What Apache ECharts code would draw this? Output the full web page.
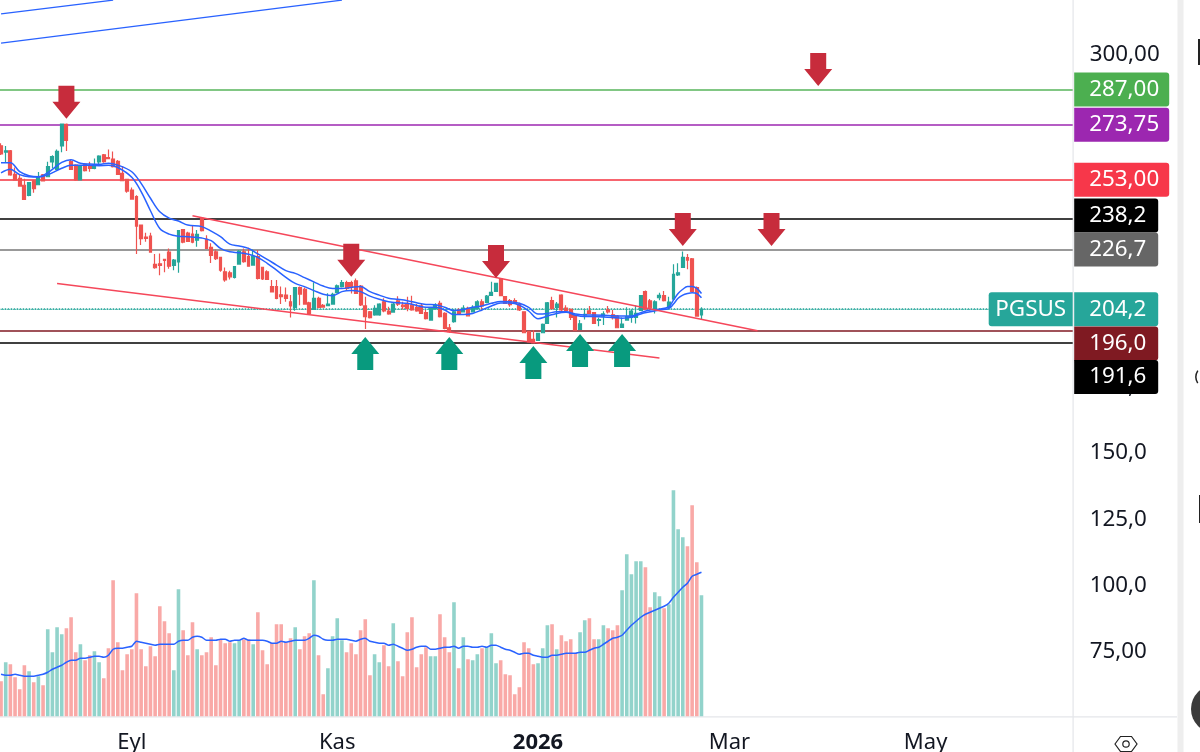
<!DOCTYPE html>
<html>
<head>
<meta charset="utf-8">
<style>html,body{margin:0;padding:0;background:#fff}#main{width:1200px;height:752px}</style>
<script src="https://cdn.jsdelivr.net/npm/echarts@6/dist/echarts.min.js"></script>
</head>
<body>
<div id="main"></div>
<script>
// candles, one entry per session
var opens = [265.8,263.4,263.9,255.0,253.5,250.9,247.1,252.6,251.1,254.8,254.1,259.7,256.9,265.7,273.9,259.8,258.5,252.9,258.8,258.3,257.3,259.7,262.4,261.3,260.8,259.9,255.4,253.1,249.1,246.6,235.9,231.4,231.7,221.1,221.3,223.0,225.7,220.7,222.0,234.2,232.9,232.5,230.2,238.4,230.5,227.5,225.8,223.7,218.3,217.9,216.2,221.2,225.8,224.0,220.8,224.0,220.0,218.3,212.7,212.7,209.6,209.5,207.0,204.9,212.3,211.7,206.6,204.1,208.3,205.6,205.5,206.1,210.4,212.7,214.2,214.2,214.9,212.9,205.4,203.2,202.0,202.0,207.0,203.5,203.1,207.3,205.7,206.1,205.7,204.9,205.4,202.9,200.1,204.4,206.4,202.6,197.2,199.5,203.9,203.2,204.5,203.2,204.5,207.0,206.7,209.4,210.9,215.6,208.9,207.4,207.4,206.1,203.2,195.7,192.8,192.4,195.3,198.8,207.4,204.9,209.5,204.6,204.1,201.9,196.6,202.0,203.6,202.9,200.0,201.6,203.9,202.1,201.6,197.3,200.1,201.1,201.1,203.7,210.8,207.3,204.5,208.5,209.3,204.9,208.0,217.1,219.9,223.6,223.2,212.3,202.0];
var closes = [262.7,263.9,254.8,252.9,250.6,245.6,251.9,249.6,253.9,252.5,257.9,261.7,263.7,274.0,267.8,256.9,252.9,257.9,256.4,257.3,258.5,261.9,259.8,260.9,257.9,255.0,252.6,248.7,245.7,235.5,230.8,230.9,225.7,219.8,220.7,222.6,220.4,222.7,233.8,229.5,229.7,229.5,232.4,233.8,227.1,224.5,223.2,218.9,215.2,216.4,220.2,226.0,222.1,220.4,224.0,215.8,215.6,215.4,210.7,208.3,208.9,208.3,205.4,212.3,209.9,206.1,202.6,208.3,204.9,205.0,206.1,209.8,213.0,214.2,212.0,212.7,210.1,205.8,201.4,201.0,204.5,206.1,203.5,202.4,206.1,206.1,205.1,204.5,203.9,203.5,202.6,200.6,204.4,205.6,201.4,196.9,195.7,203.2,202.4,204.6,201.7,204.9,207.0,205.4,209.1,210.5,213.9,209.3,206.4,205.9,206.4,203.9,195.3,191.9,191.5,195.1,198.5,206.6,204.4,206.1,203.9,203.7,201.1,196.3,198.7,202.2,202.6,198.8,200.3,202.4,203.2,201.0,197.2,198.6,201.4,203.5,202.6,209.3,204.2,204.7,207.0,209.4,207.4,206.9,217.3,217.9,223.7,222.7,210.9,201.6,204.2];
var lows = [262.3,259.4,254.5,252.9,250.4,245.6,246.8,248.1,251.0,252.4,254.1,257.3,256.6,263.3,263.8,256.9,252.6,252.7,256.1,256.0,256.9,258.9,259.4,260.7,257.6,254.8,252.5,248.1,245.6,225.0,228.4,229.6,225.5,219.4,217.0,218.1,219.4,218.9,217.9,229.0,229.6,229.0,227.7,233.5,226.9,221.6,222.7,218.3,214.5,215.4,215.8,221.0,221.7,220.2,220.7,215.4,215.2,215.2,210.7,207.9,206.1,207.0,201.1,203.6,205.7,205.9,202.4,203.9,204.5,204.9,205.4,205.9,210.1,212.4,211.4,210.1,209.9,205.4,196.7,200.7,201.7,201.7,203.0,202.1,202.9,205.4,204.1,203.4,203.6,203.2,202.4,200.3,199.8,204.1,201.1,196.6,195.3,199.1,202.1,202.9,201.6,202.9,204.1,204.1,206.4,209.3,210.7,209.1,206.1,205.1,206.1,203.5,195.1,191.8,191.3,192.3,195.1,198.6,204.1,201.1,203.5,203.2,200.1,196.1,196.3,200.3,202.4,198.6,197.8,198.2,202.6,200.3,197.0,197.1,199.8,199.1,198.8,203.5,204.0,204.5,202.6,207.6,207.1,204.6,207.9,216.7,219.8,219.2,210.7,201.4,200.3];
var highs = [266.7,265.7,264.2,257.6,255.0,253.4,252.1,252.9,255.9,255.1,259.8,262.2,264.4,274.2,274.2,260.7,258.8,258.5,259.2,259.8,261.0,262.2,262.7,264.4,263.6,260.4,258.1,253.4,250.1,247.1,235.9,233.0,233.0,225.0,225.2,223.2,227.1,223.1,234.0,234.4,233.4,235.9,234.0,238.8,232.1,229.0,226.7,224.0,219.9,218.7,220.4,226.5,227.1,227.3,226.7,226.5,220.2,218.9,215.2,215.2,212.7,212.4,209.5,212.4,212.7,212.4,207.0,214.3,208.9,206.1,210.2,210.4,213.5,215.2,214.9,214.9,215.8,213.3,208.9,203.5,205.7,206.4,208.3,205.1,206.6,209.1,207.0,208.9,209.3,206.1,206.1,203.9,204.6,206.4,207.4,203.0,198.6,204.1,204.5,205.7,205.1,205.7,207.6,207.9,209.5,214.5,214.2,215.8,209.1,208.0,208.3,206.6,203.2,195.9,196.3,195.3,198.8,206.9,208.9,206.9,209.8,205.7,204.4,202.0,200.1,204.1,205.4,203.1,201.1,203.4,205.4,203.9,202.0,201.1,204.9,204.1,205.6,209.5,211.2,208.0,207.6,210.4,211.0,208.9,221.1,221.5,225.9,225.0,223.5,212.7,204.9];

// moving averages on the price, sampled as [session, price]
var maFast = [[0,259.4],[2,259.4],[4,256.0],[6,254.5],[8,254.1],[10,255.6],[13,259.5],[15,260.5],[17,259.2],[19,258.9],[21,258.8],[23,259.2],[25,258.5],[28,256.0],[30,251.6],[32,246.0],[34,240.9],[36,238.5],[38,237.4],[40,235.9],[43,235.3],[45,233.6],[47,231.5],[49,228.7],[51,228.0],[53,227.1],[55,225.0],[57,223.0],[59,220.8],[61,218.7],[63,217.7],[65,216.1],[67,214.5],[69,212.9],[71,212.0],[73,212.0],[75,212.4],[77,212.7],[79,210.8],[81,209.5],[83,208.3],[85,207.9],[87,207.4],[89,206.6],[91,206.0],[93,205.9],[95,204.9],[97,203.7],[99,204.1],[101,204.9],[103,205.4],[105,206.4],[107,207.1],[109,207.0],[111,206.4],[113,204.9],[115,202.4],[117,202.6],[119,203.2],[121,203.2],[123,202.4],[125,202.0],[127,202.0],[129,201.9],[131,201.7],[133,201.6],[135,201.6],[137,202.9],[139,203.9],[141,204.2],[143,205.1],[144,207.6],[145,210.1],[146,211.7],[147,212.7],[148,212.7],[149,212.0],[150,210.1]];
var maSlow = [[0,255.6],[2,256.9],[4,254.9],[6,254.1],[8,254.0],[10,254.8],[13,257.3],[15,258.4],[17,258.4],[19,258.4],[21,258.3],[23,258.4],[25,257.6],[28,253.9],[30,248.5],[32,241.3],[34,234.6],[36,232.5],[38,231.7],[40,231.5],[43,231.0],[45,230.0],[47,227.1],[49,225.8],[51,225.5],[53,224.9],[55,223.7],[57,221.5],[59,218.9],[61,216.2],[63,213.9],[65,212.7],[67,211.2],[69,209.8],[71,209.3],[73,210.8],[75,211.2],[77,210.8],[79,209.1],[81,207.9],[83,207.0],[85,206.6],[87,206.4],[89,205.6],[91,204.9],[93,204.9],[95,203.9],[97,202.2],[99,202.2],[101,202.6],[103,203.9],[105,205.4],[107,206.5],[109,206.5],[111,205.7],[113,203.5],[115,200.6],[117,201.6],[119,202.6],[121,203.0],[123,201.9],[125,201.4],[127,201.4],[129,201.2],[131,201.1],[133,200.8],[135,201.1],[137,202.4],[139,203.2],[141,203.9],[143,204.4],[144,206.1],[145,208.3],[146,209.5],[147,210.1],[148,210.4],[149,210.1],[150,208.5]];

// volume, in the units of the hidden lower axis
var volumes = [35,54,52,39,27,51,45,34,40,31,87,64,89,82,88,99,64,72,56,61,65,54,38,68,136,74,46,62,67,123,67,50,70,60,110,95,83,46,127,86,61,94,67,61,64,79,51,77,73,74,73,76,77,77,72,104,66,52,73,92,92,74,78,89,67,80,83,136,61,22,48,80,98,76,64,73,62,86,97,41,62,54,71,50,93,55,40,84,99,49,62,69,60,60,102,79,64,114,48,79,57,56,62,68,69,83,53,56,42,41,22,29,74,68,52,53,68,91,92,67,81,75,77,63,84,96,98,77,77,91,88,86,91,126,162,142,155,155,149,109,124,120,108,112,226,187,179,170,211,154,121];
var volumeMa = [42,41,41,42,41,40,40,40,41,42,44,47,49,51,54,56,56,58,58,59,60,60,59,61,67,68,68,69,70,75,74,73,72,71,72,72,72,72,75,76,76,79,80,79,76,76,76,77,77,75,76,76,78,76,76,76,76,75,73,73,75,74,75,76,76,76,78,81,80,77,76,76,77,77,77,76,75,77,78,75,74,73,73,71,72,70,68,66,67,69,70,70,67,67,68,69,69,70,68,70,70,69,69,70,69,71,71,69,67,66,64,62,63,63,61,60,59,59,61,61,62,63,63,63,64,64,66,68,69,72,75,78,79,81,86,91,95,99,102,104,106,108,110,113,119,124,129,133,140,142,144];

// horizontal price levels
var levels = [287, 273.75, 253, 238.2, 226.7, 204.2, 196, 191.6];
var levelTexts = ['287,00', '273,75', '253,00', '238,2', '226,7', '204,2', '196,0', '191,6'];
var tickerName = 'PGSUS';

// sloped trend lines, [session, price] at each end
var channelUpper = [[41,239.4],[162,196.1]];
var channelLower = [[12,213.9],[141,185.8]];
var blueRayA = [[0,315.5],[24,320.7]];
var blueRayB = [[0,304.5],[73,320.7]];

// arrow annotations, [session, price at the tip]
var sellArrows = [[14,276.0],[75,216.4],[106,215.9],[146,228.0],[165,228.0],[175,288.3]];
var buyArrows = [[78,193.7],[96,193.7],[114,190.3],[124,194.8],[133,194.8]];

var monthLabels = {28:'Eyl', 72:'Kas', 115:'2026', 156:'Mar', 198:'May'};
// 200 to 275 sit behind the price tags in the picture
var priceTickTexts = {75:'75,00', 100:'100,0', 125:'125,0', 150:'150,0', 175:'175,0', 300:'300,00'};
var sessionSlots = 230;

var FONT = '"Noto Sans"';
var UP = '#26a69a', DOWN = '#ef5350';
var BLUE = '#2962ff';
var levelColors = ['#4caf50', '#9c27b0', '#f7374a', '#000000', '#666666', '#26a69a', '#7f1a22', '#000000'];
var levelLineColors = ['#81c784', '#9c27b0', '#f7656f', '#000000', '#777777', '#26a69a', '#801922', '#000000'];
var tagWidths = [95, 95, 95, 84, 84, 84, 84, 84];
// the scale pushes crowded tags off their lines
var tagShifts = [0, 0, 0, -3.5, 0, 0, 12.5, 34.5];

var categories = [];
for (var n = 0; n < sessionSlots; n++) categories.push(String(n));

var candles = opens.map(function (o, i) { return [o, closes[i], lows[i], highs[i]]; });
var volumeBars = volumes.map(function (v, i) {
    return {value: v, itemStyle: {color: closes[i] >= opens[i] ? '#92d3cb' : '#f9a9a7'}};
});

var levelLines = levels.map(function (v, i) {
    var rich = {};
    rich.t = {
        width: tagWidths[i] - 15, height: 34, lineHeight: 30, align: 'left', padding: [0, 0, 0, 15],
        backgroundColor: levelColors[i], borderRadius: [0, 3, 3, 0],
        color: '#fff', fontFamily: FONT, fontSize: 22.4
    };
    return {
        yAxis: v,
        lineStyle: {color: levelLineColors[i], width: i === 2 || i === 0 ? 2 : 1.5, type: i === 5 ? 'dotted' : 'solid', opacity: 1},
        label: {show: true, position: 'end', distance: 1.5, offset: [0, tagShifts[i]], formatter: '{t|' + levelTexts[i] + '}', rich: rich}
    };
});

var ARROW_DOWN = 'path://M6 0H22V16H28L14 33L0 16H6Z';
var ARROW_UP = 'path://M14 0L28 17H22V33H6V17H0Z';

var option = {
    animation: false,
    backgroundColor: '#fff',
    grid: {left: -1.3, top: 0, width: 1074, height: 718.25, outerBoundsMode: 'none'},
    xAxis: {
        type: 'category',
        data: categories,
        boundaryGap: true,
        axisLine: {show: false},
        axisTick: {show: false},
        splitLine: {show: false},
        axisLabel: {
            show: true,
            interval: function (i) { return monthLabels[i] !== undefined; },
            margin: 13,
            formatter: function (val, i) {
                var s = monthLabels[i];
                if (s === undefined) return '';
                return s === '2026' ? '{b|' + s + '}' : s;
            },
            color: '#131722', fontFamily: FONT, fontSize: 22,
            rich: {b: {fontWeight: 'bold', color: '#131722', fontFamily: FONT, fontSize: 22}}
        }
    },
    yAxis: [{
        type: 'value',
        position: 'right',
        min: 50,
        max: 320.73,
        interval: 25,
        axisLine: {show: false},
        axisTick: {show: false},
        splitLine: {show: false},
        axisLabel: {
            margin: 17,
            padding: [0, 0, 4, 0],
            color: '#131722', fontFamily: FONT, fontSize: 22.4,
            formatter: function (v) { return priceTickTexts[v] || ''; }
        }
    }, {
        type: 'value',
        show: false,
        min: -2,
        max: 716.25
    }],
    series: [{
        name: 'Hacim',
        type: 'bar',
        yAxisIndex: 1,
        data: volumeBars,
        barWidth: 3.6,
        z: 1
    }, {
        name: 'Hacim MA',
        type: 'line',
        yAxisIndex: 1,
        data: volumeMa,
        showSymbol: false,
        symbol: 'none',
        smooth: 0.2,
        lineStyle: {color: BLUE, width: 1.5},
        z: 2
    }, {
        name: 'PGSUS',
        type: 'candlestick',
        data: candles,
        barWidth: 3.4,
        itemStyle: {color: UP, color0: DOWN, borderColor: UP, borderColor0: DOWN, borderWidth: 1.2},
        z: 4,
        markLine: {
            silent: true,
            symbol: 'none',
            animation: false,
            precision: 2,
            z: 3,
            data: levelLines.concat([{
                yAxis: levels[5],
                lineStyle: {color: UP, width: 1, type: 'dotted'},
                label: {
                    show: true, position: 'insideEnd', distance: 0, formatter: '{t|' + tickerName + '}',
                    rich: {t: {width: 84, height: 34, lineHeight: 30, align: 'center', backgroundColor: UP,
                        borderRadius: [3, 0, 0, 3], color: '#fff', fontFamily: FONT, fontSize: 22.4}}
                }
            }])
        }
    }, {
        name: 'MA hizli', type: 'line', data: maFast, symbol: 'none', smooth: 0.35,
        lineStyle: {color: BLUE, width: 1.5}, z: 5
    }, {
        name: 'MA yavas', type: 'line', data: maSlow, symbol: 'none', smooth: 0.35,
        lineStyle: {color: BLUE, width: 1.5}, z: 5
    }, {
        name: 'Kanal ust', type: 'line', data: channelUpper, symbol: 'none',
        lineStyle: {color: '#f5475a', width: 1.5}, z: 5
    }, {
        name: 'Kanal alt', type: 'line', data: channelLower, symbol: 'none',
        lineStyle: {color: '#f5475a', width: 1.5}, z: 5
    }, {
        name: 'Isin A', type: 'line', data: blueRayA, symbol: 'none',
        lineStyle: {color: BLUE, width: 1.2}, z: 5
    }, {
        name: 'Isin B', type: 'line', data: blueRayB, symbol: 'none',
        lineStyle: {color: BLUE, width: 1.2}, z: 5
    }, {
        name: 'Sat', type: 'scatter', data: sellArrows, symbol: ARROW_DOWN,
        symbolSize: [28, 33], symbolOffset: [0, -16.5], symbolKeepAspect: false,
        itemStyle: {color: '#c72c3c', opacity: 1}, z: 6
    }, {
        name: 'Al', type: 'scatter', data: buyArrows, symbol: ARROW_UP,
        symbolSize: [28, 33], symbolOffset: [0, 16.5], symbolKeepAspect: false,
        itemStyle: {color: '#089a7e', opacity: 1}, z: 6
    }],
    // pane borders and the cropped toolbar at the right edge
    graphic: [
        {type: 'rect', z: 1, shape: {x: 1072.5, y: 0, width: 1.2, height: 752}, style: {fill: '#e4e6ea'}},
        {type: 'rect', z: 1, shape: {x: 0, y: 716.2, width: 1177, height: 1.2}, style: {fill: '#e4e6ea'}},
        {type: 'rect', z: 1, shape: {x: 1177.5, y: 0, width: 6, height: 752}, style: {fill: '#eeeeee'}},
        {type: 'rect', z: 1, shape: {x: 1198, y: 39, width: 2, height: 26}, style: {fill: '#222'}},
        {type: 'rect', z: 1, shape: {x: 1199, y: 495, width: 1, height: 28}, style: {fill: '#222'}},
        {type: 'arc', z: 1, shape: {cx: 1208, cy: 377, r: 12, startAngle: 2.6, endAngle: 3.7}, style: {stroke: '#222', lineWidth: 1.5, fill: null}},
        {type: 'circle', z: 1, shape: {cx: 1215, cy: 709, r: 24}, style: {fill: '#3b3b3b'}},
        {type: 'polygon', z: 1, shape: {points: [[1115,744],[1120.5,736.5],[1131.5,736.5],[1137,744],[1131.5,751.5],[1120.5,751.5]]}, style: {stroke: '#222', lineWidth: 1.2, fill: null}},
        {type: 'circle', z: 1, shape: {cx: 1126, cy: 744, r: 3.2}, style: {stroke: '#222', lineWidth: 1.2, fill: null}}
    ]
};

var chart = echarts.init(document.getElementById('main'), null, {renderer: 'canvas'});
chart.setOption(option);
</script>
</body>
</html>
